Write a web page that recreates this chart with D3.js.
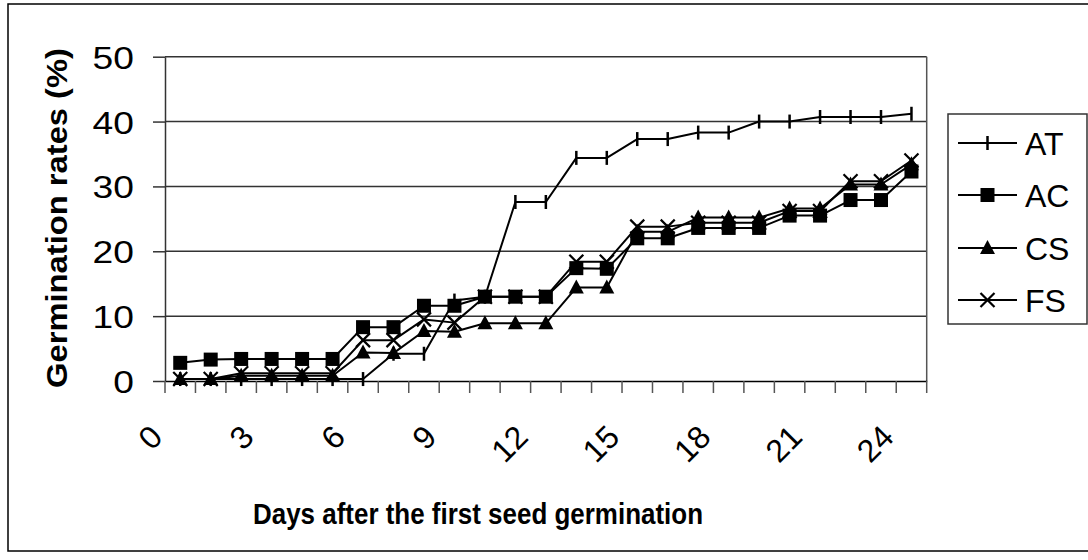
<!DOCTYPE html>
<html><head><meta charset="utf-8">
<script src="https://cdn.jsdelivr.net/npm/d3@7"></script>
<style>
body{margin:0;background:#fff}
svg{display:block}
text{font-family:Arial,"Liberation Sans",sans-serif;fill:#000}
</style>
</head><body>
<svg id="chart" width="1088" height="560"></svg>
<script>
// ---- data ----
const days = ['0','1','2','3','4','5','6','7','8','9','10','11','12','13','14','15','16','17','18','19','20','21','22','23','24'];
const xTickLabels = ['0','3','6','9','12','15','18','21','24'];
const yTicks = [0,10,20,30,40,50];
const seriesNames = ['AT','AC','CS','FS'];
const AT = [0.3,0.3,0.3,0.3,0.3,0.3,0.3,4.2,4.2,12.4,13.0,27.6,27.6,34.4,34.4,37.3,37.3,38.3,38.3,40.0,40.0,40.7,40.7,40.7,41.2];
const AC = [2.8,3.3,3.4,3.4,3.4,3.4,8.3,8.3,11.6,11.6,13.0,13.0,13.0,17.4,17.3,22.0,22.0,23.6,23.6,23.6,25.5,25.5,27.9,27.9,32.3];
const CS = [0.3,0.3,0.8,0.8,0.8,0.8,4.4,4.3,7.7,7.6,8.9,8.9,8.9,14.4,14.4,23.0,23.0,25.2,25.2,25.2,26.6,26.6,30.3,30.3,33.4];
const FS = [0.3,0.3,1.2,1.2,1.2,1.2,6.3,6.3,9.5,9.0,13.0,13.0,13.0,18.4,18.4,23.8,23.8,24.4,24.4,24.4,26.2,26.2,30.8,30.8,34.0];
const seriesValues = [AT, AC, CS, FS];
const xTitle = 'Days after the first seed germination';
const yTitle = 'Germination rates (%)';

// ---- layout ----
const svg = d3.select('#chart');
const L = 165, R = 926.7, T = 56.7, B = 381;
const x = d3.scaleBand().domain(days).range([L, R]).padding(0);
const y = d3.scaleLinear().domain([0, 50]).range([B, T]);
const cx = d => x(d) + x.bandwidth() / 2;

// outer frame
svg.append('rect').attr('x', 8).attr('y', 4).attr('width', 1090).attr('height', 547)
  .attr('fill', 'none').attr('stroke', '#000').attr('stroke-width', 1.5);

// gridlines
svg.append('g').selectAll('line').data(yTicks.filter(v => v > 0)).join('line')
  .attr('x1', L).attr('x2', R).attr('y1', d => y(d)).attr('y2', d => y(d))
  .attr('stroke', '#333').attr('stroke-width', 1.5);
// right border of plot
svg.append('line').attr('x1', R).attr('x2', R).attr('y1', T).attr('y2', B)
  .attr('stroke', '#555').attr('stroke-width', 1.5);

// y axis
const yAxis = svg.append('g').attr('transform', `translate(${L},0)`)
  .call(d3.axisLeft(y).tickValues(yTicks).tickSize(12).tickSizeOuter(0));
yAxis.select('.domain').attr('stroke', '#333').attr('stroke-width', 1.5);
yAxis.selectAll('.tick line').attr('stroke', '#333').attr('stroke-width', 1.5);
yAxis.selectAll('.tick text').attr('x', null).attr('dy', null)
  .attr('transform', 'translate(-31,11.5) scale(1.2,1)')
  .attr('font-size', 31).attr('font-family', 'Arial, "Liberation Sans", sans-serif')
  .attr('text-anchor', 'end');

// x axis
const xAxis = svg.append('g').attr('transform', `translate(0,${B})`)
  .call(d3.axisBottom(x).tickValues([]).tickSize(0).tickSizeOuter(0));
xAxis.select('.domain').attr('stroke', '#000').attr('stroke-width', 1.5);
const edges = days.map(d => x(d)).concat([x(days[days.length - 1]) + x.bandwidth()]);
svg.append('g').selectAll('line').data(edges).join('line')
  .attr('x1', d => d).attr('x2', d => d).attr('y1', B).attr('y2', B + 12)
  .attr('stroke', '#555').attr('stroke-width', 1.5);
svg.append('g').selectAll('text').data(xTickLabels).join('text')
  .attr('transform', d => `translate(${cx(d) - 16},439) rotate(-45)`)
  .attr('text-anchor', 'end').attr('font-size', 32).text(d => d);

// titles
svg.append('text').attr('x', 478).attr('y', 524).attr('text-anchor', 'middle')
  .attr('font-size', 29).attr('font-weight', 'bold')
  .attr('textLength', 450).attr('lengthAdjust', 'spacingAndGlyphs').text(xTitle);
svg.append('text').attr('transform', 'translate(67,218) rotate(-90)').attr('text-anchor', 'middle')
  .attr('font-size', 29).attr('font-weight', 'bold')
  .attr('textLength', 340).attr('lengthAdjust', 'spacingAndGlyphs').text(yTitle);

// markers
function marker(g, kind) {
  if (kind === 'AT') {
    g.append('path').attr('d', 'M0,-7V7').attr('stroke', '#000').attr('stroke-width', 2.5);
  } else if (kind === 'AC') {
    g.append('rect').attr('x', -7).attr('y', -7).attr('width', 14).attr('height', 14).attr('fill', '#000');
  } else if (kind === 'CS') {
    g.append('path').attr('d', 'M0,-8L7.5,6L-7.5,6Z').attr('fill', '#000');
  } else {
    g.append('path').attr('d', 'M-7,-7L7,7M-7,7L7,-7').attr('stroke', '#000').attr('stroke-width', 2.2);
  }
}

const line = d3.line().x((v, i) => cx(days[i])).y(v => y(v));
seriesNames.forEach((name, si) => {
  const vals = seriesValues[si];
  const g = svg.append('g');
  g.append('path').attr('d', line(vals)).attr('fill', 'none')
    .attr('stroke', '#000').attr('stroke-width', 2).attr('stroke-linejoin', 'round');
  vals.forEach((v, i) => {
    const mg = g.append('g').attr('transform', `translate(${cx(days[i])},${y(v)})`);
    marker(mg, name);
  });
});

// legend
const lg = svg.append('g');
lg.append('rect').attr('x', 948).attr('y', 114).attr('width', 139).attr('height', 210)
  .attr('fill', '#fff').attr('stroke', '#333').attr('stroke-width', 1.5);
const legY = [143, 195, 248, 300];
seriesNames.forEach((name, i) => {
  const yy = legY[i];
  lg.append('line').attr('x1', 958).attr('x2', 1017).attr('y1', yy).attr('y2', yy)
    .attr('stroke', '#000').attr('stroke-width', 2);
  const mg = lg.append('g').attr('transform', `translate(987.5,${yy})`);
  marker(mg, name);
  lg.append('text').attr('x', 1025).attr('y', yy + 12).attr('font-size', 32).text(name);
});
</script>
</body></html>
